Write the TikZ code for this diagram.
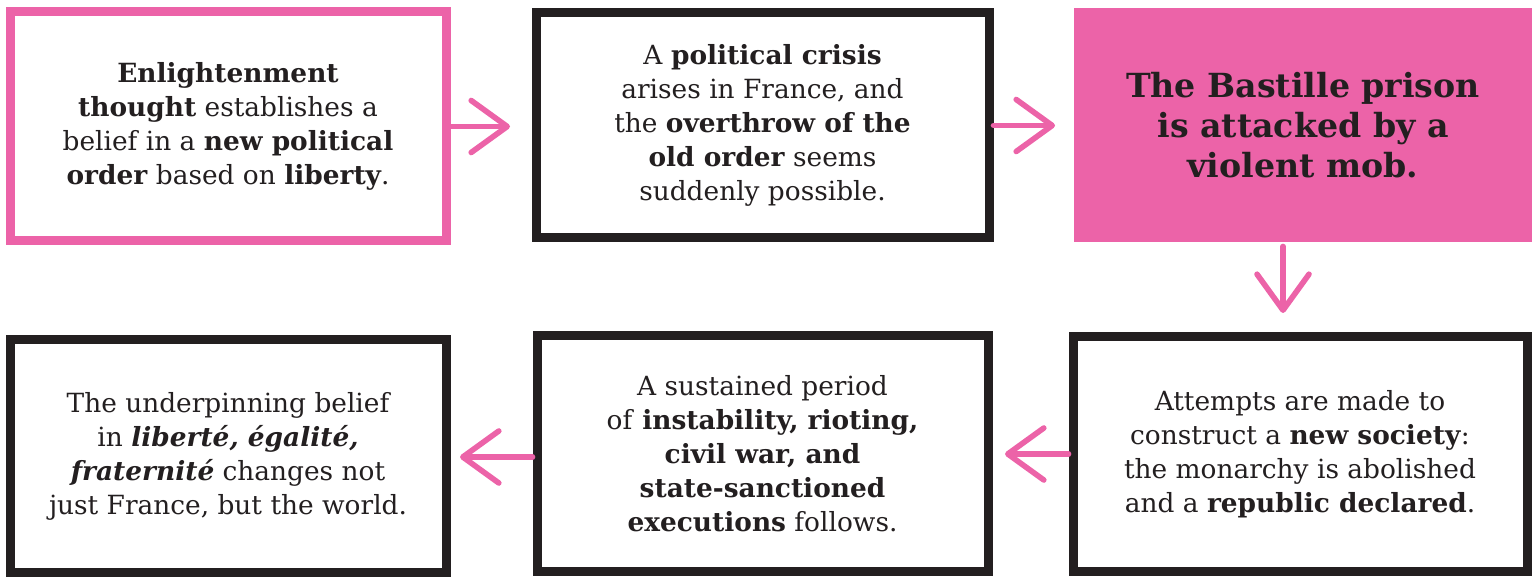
\documentclass[tikz,border=0pt]{standalone}
\usepackage{fontspec}
\setmainfont{DejaVu Serif}
\usetikzlibrary{arrows.meta,calc}
\definecolor{hpink}{RGB}{236,99,168}
\definecolor{ink}{RGB}{35,31,32}
\begin{document}
\begin{tikzpicture}[x=0.5pt,y=-0.5pt,
  boxbase/.style={rectangle, line width=4.5pt, inner sep=0pt, align=center,
    font=\fontsize{13.2}{17}\selectfont, text=ink},
  pinkbox/.style={boxbase, draw=hpink, fill=white},
  inkbox/.style={boxbase, draw=ink, fill=white},
  solidbox/.style={boxbase, fill=hpink, font=\fontsize{16.6}{20}\selectfont\bfseries},
  conn/.style={draw=hpink, line width=2.8pt, line cap=round,
    -{Straight Barb[length=18pt,width=26pt,line width=2.8pt,round]}}
]
\useasboundingbox (0,0) rectangle (1536,587);

\node[pinkbox, minimum width=218pt, minimum height=114.5pt] (b1) at (228,126.5)
  {\textbf{Enlightenment}\\\textbf{thought} establishes a\\belief in a \textbf{new political}\\\textbf{order} based on \textbf{liberty}.};
\node[inkbox, minimum width=226.5pt, minimum height=112.5pt] (b2) at (762.5,125.5)
  {A \textbf{political crisis}\\arises in France, and\\the \textbf{overthrow of the}\\\textbf{old order} seems\\suddenly possible.};
\node[solidbox, minimum width=229pt, minimum height=117pt] (b3) at (1303,125)
  {The Bastille prison\\is attacked by a\\violent mob.};
\node[inkbox, minimum width=218pt, minimum height=116pt] (b4) at (228,456)
  {The underpinning belief\\in \textbf{\textit{liberté, égalité,}}\\\textbf{\textit{fraternité}} changes not\\just France, but the world.};
\node[inkbox, minimum width=225.5pt, minimum height=117.5pt] (b5) at (762.5,453.5)
  {A sustained period\\of \textbf{instability, rioting,}\\\textbf{civil war, and}\\\textbf{state-sanctioned}\\\textbf{executions} follows.};
\node[inkbox, minimum width=227pt, minimum height=117pt] (b6) at (1300,454)
  {Attempts are made to\\construct a \textbf{new society}:\\the monarchy is abolished\\and a \textbf{republic declared}.};

\coordinate (t1) at (510,126.5);
\coordinate (t2) at (1055,125.5);
\coordinate (t3) at (1283,313);
\coordinate (t4) at (1005,454);
\coordinate (t5) at (460,457);

\draw[conn] (b1.east) -- (t1);
\draw[conn] (b2.east) -- (t2);
\draw[conn] (t3 |- b3.south) -- (t3);
\draw[conn] (b6.west) -- (t4);
\draw[conn] (t5 -| b5.west) -- (t5);
\end{tikzpicture}
\end{document}
